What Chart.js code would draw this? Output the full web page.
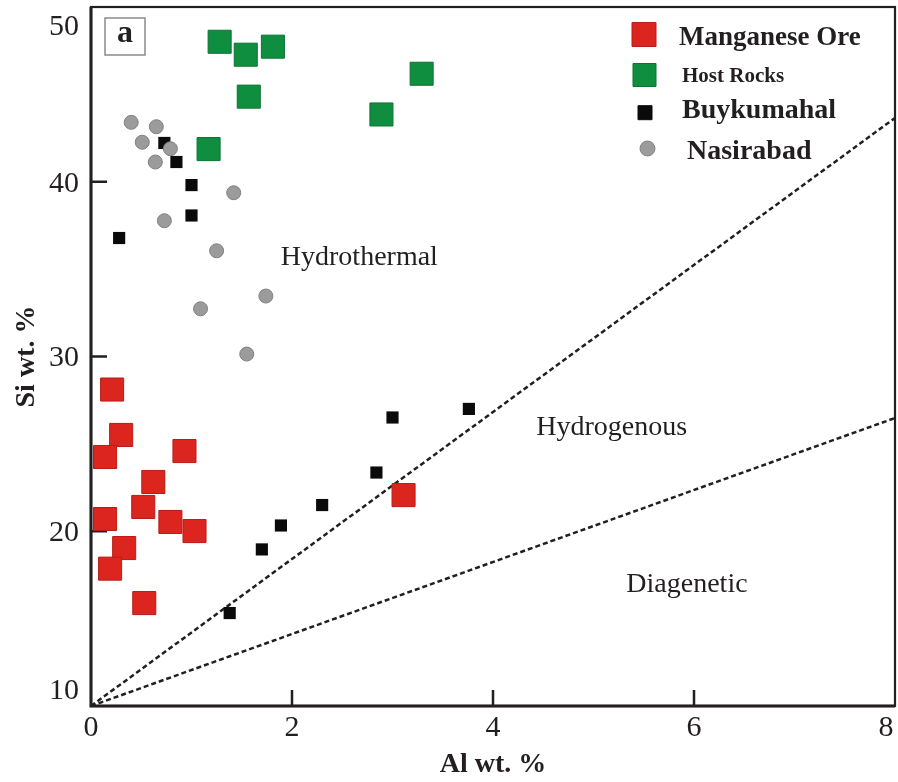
<!DOCTYPE html>
<html lang="en">
<head>
  <meta charset="UTF-8" />
  <title>Si vs Al discrimination diagram</title>
  <script src="https://cdn.jsdelivr.net/npm/chart.js"></script>
  <style>
    html, body { margin: 0; padding: 0; background: #fff; }
    #wrap { width: 898px; height: 782px; }
  </style>
</head>
<body>
  <div id="wrap">
    <canvas id="discrimChart" width="898" height="782"></canvas>
  </div>

  <script>
    // Al (x) and Si (y) in wt. %
    const manganeseAl = [0.21, 0.30, 0.14, 0.93, 0.62, 0.52, 0.14, 0.79, 1.03, 0.33, 0.19, 0.53, 3.11];
    const manganeseSi = [28.11, 25.51, 24.25, 24.59, 22.82, 21.39, 20.7, 20.53, 20.01, 19.04, 17.86, 15.89, 22.07];

    const hostAl = [1.28, 1.54, 1.81, 1.57, 1.17, 2.89, 3.29];
    const hostSi = [48.01, 47.27, 47.73, 44.87, 41.87, 43.85, 46.18];

    const buykumahalAl = [0.73, 0.85, 1.00, 1.00, 0.28, 1.38, 1.70, 1.89, 2.30, 2.84, 3.00, 3.76];
    const buykumahalSi = [42.22, 41.13, 39.81, 38.07, 36.78, 15.32, 18.96, 20.33, 21.5, 23.36, 26.51, 27.0];

    const nasirabadAl = [0.40, 0.65, 0.51, 0.79, 0.64, 1.42, 0.73, 1.25, 1.74, 1.09, 1.55];
    const nasirabadSi = [43.4, 43.15, 42.26, 41.89, 41.13, 39.37, 37.77, 36.05, 33.46, 32.73, 30.14];

    // field boundaries, both starting at the origin
    const upperBoundAl = [0, 8];
    const upperBoundSi = [10, 43.65];
    const lowerBoundAl = [0, 8];
    const lowerBoundSi = [10, 26.48];

    const xTicks = [0, 2, 4, 6, 8];
    const yTicks = [10, 20, 30, 40, 50];

    const fieldNames = ['Hydrothermal', 'Hydrogenous', 'Diagenetic'];
    const fieldAl = [2.67, 5.18, 5.93];
    const fieldSi = [35.24, 25.51, 16.52];

    const ink = '#231f20';
    const serif = '"Liberation Serif", "DejaVu Serif", serif';

    const toPoints = (xs, ys) => xs.map((v, i) => ({ x: v, y: ys[i] }));

    const decor = {
      id: 'decor',
      beforeDatasetsDraw(chart) {
        const { ctx, chartArea: a, scales: { x, y } } = chart;
        ctx.save();

        // frame, with the two axes a little heavier
        ctx.strokeStyle = ink;
        ctx.lineWidth = 2.2;
        ctx.strokeRect(a.left, a.top, a.right - a.left, a.bottom - a.top);
        ctx.lineWidth = 3;
        ctx.beginPath();
        ctx.moveTo(a.left, a.top);
        ctx.lineTo(a.left, a.bottom);
        ctx.lineTo(a.right, a.bottom);
        ctx.stroke();

        // short inward tick marks
        ctx.lineWidth = 2.5;
        ctx.beginPath();
        xTicks.slice(1, -1).forEach(v => {
          const px = x.getPixelForValue(v);
          ctx.moveTo(px, a.bottom);
          ctx.lineTo(px, a.bottom - 16);
        });
        yTicks.slice(1, -1).forEach(v => {
          const py = y.getPixelForValue(v);
          ctx.moveTo(a.left, py);
          ctx.lineTo(a.left + 16, py);
        });
        ctx.stroke();

        // tick labels, pulled inside the frame at the ends
        ctx.fillStyle = ink;
        ctx.font = '30px ' + serif;
        ctx.textAlign = 'right';
        ctx.textBaseline = 'middle';
        yTicks.forEach(v => {
          const py = Math.min(Math.max(y.getPixelForValue(v), a.top + 18), a.bottom - 17);
          ctx.fillText(String(v), a.left - 12, py + 2);
        });
        ctx.textAlign = 'center';
        xTicks.forEach(v => {
          const px = Math.min(x.getPixelForValue(v), a.right - 9);
          ctx.fillText(String(v), px, a.bottom + 22);
        });

        // field names
        ctx.font = '28px ' + serif;
        ctx.textBaseline = 'alphabetic';
        fieldNames.forEach((name, i) => {
          ctx.fillText(name, x.getPixelForValue(fieldAl[i]), y.getPixelForValue(fieldSi[i]));
        });

        ctx.restore();
      },
      afterDatasetsDraw(chart) {
        const { ctx, chartArea: a } = chart;
        const ds = chart.data.datasets;
        ctx.save();

        // panel tag
        ctx.fillStyle = '#fff';
        ctx.fillRect(a.left + 14, a.top + 11, 40, 37);
        ctx.strokeStyle = '#8a8a8a';
        ctx.lineWidth = 1.5;
        ctx.strokeRect(a.left + 14, a.top + 11, 40, 37);
        ctx.fillStyle = ink;
        ctx.font = 'bold 32px ' + serif;
        ctx.textAlign = 'center';
        ctx.textBaseline = 'middle';
        ctx.fillText('a', a.left + 34, a.top + 27);

        // legend
        const rows = [
          { d: 0, size: 24, mx: 644, my: 34.5, tx: 679, ty: 45, font: 27 },
          { d: 1, size: 23, mx: 644.5, my: 75, tx: 682, ty: 82, font: 21 },
          { d: 2, size: 14, mx: 645, my: 112.7, tx: 682, ty: 118, font: 28 },
          { d: 3, size: 15, mx: 647.5, my: 148.5, tx: 687, ty: 159, font: 28 }
        ];
        ctx.textAlign = 'left';
        ctx.textBaseline = 'alphabetic';
        rows.forEach(r => {
          const set = ds[r.d];
          ctx.fillStyle = set.backgroundColor;
          ctx.strokeStyle = set.borderColor;
          ctx.lineWidth = 1;
          const h = r.size / 2;
          ctx.beginPath();
          if (set.pointStyle === 'circle') {
            ctx.arc(r.mx, r.my, h, 0, Math.PI * 2);
          } else {
            ctx.rect(r.mx - h, r.my - h, r.size, r.size);
          }
          ctx.fill();
          ctx.stroke();
          ctx.fillStyle = ink;
          ctx.font = 'bold ' + r.font + 'px ' + serif;
          ctx.fillText(set.label, r.tx, r.ty);
        });

        ctx.restore();
      }
    };

    new Chart(document.getElementById('discrimChart'), {
      type: 'scatter',
      data: {
        datasets: [
          {
            label: 'Manganese Ore',
            data: toPoints(manganeseAl, manganeseSi),
            pointStyle: 'rect',
            pointRadius: 16.3,
            backgroundColor: '#dd2520',
            borderColor: '#b81d17',
            borderWidth: 1,
            order: 4
          },
          {
            label: 'Host Rocks',
            data: toPoints(hostAl, hostSi),
            pointStyle: 'rect',
            pointRadius: 16.3,
            backgroundColor: '#0f8e3f',
            borderColor: '#0b7533',
            borderWidth: 1,
            order: 3
          },
          {
            label: 'Buykumahal',
            data: toPoints(buykumahalAl, buykumahalSi),
            pointStyle: 'rect',
            pointRadius: 8.6,
            backgroundColor: '#0a0a0a',
            borderColor: '#0a0a0a',
            borderWidth: 0,
            order: 2
          },
          {
            label: 'Nasirabad',
            data: toPoints(nasirabadAl, nasirabadSi),
            pointStyle: 'circle',
            pointRadius: 7,
            backgroundColor: '#9b9b9b',
            borderColor: '#808080',
            borderWidth: 1,
            order: 1
          },
          {
            label: 'upper boundary',
            data: toPoints(upperBoundAl, upperBoundSi),
            showLine: true,
            pointRadius: 0,
            borderColor: ink,
            borderWidth: 2.5,
            borderDash: [5, 3],
            order: 10
          },
          {
            label: 'lower boundary',
            data: toPoints(lowerBoundAl, lowerBoundSi),
            showLine: true,
            pointRadius: 0,
            borderColor: ink,
            borderWidth: 2.5,
            borderDash: [5, 3],
            order: 10
          }
        ]
      },
      options: {
        responsive: false,
        animation: false,
        layout: { autoPadding: false, padding: { top: 7, right: 3, left: 0, bottom: 0 } },
        plugins: {
          legend: { display: false },
          tooltip: { enabled: false }
        },
        scales: {
          x: {
            type: 'linear',
            min: 0,
            max: 8,
            grid: { display: false, drawTicks: false },
            border: { display: false },
            ticks: { display: false },
            afterBuildTicks: s => { s.ticks = xTicks.map(v => ({ value: v })); },
            afterFit: s => { s.height = 76; s.paddingLeft = 0; s.paddingRight = 0; },
            title: {
              display: true,
              text: 'Al wt. %',
              color: ink,
              font: { family: serif, size: 28, weight: 'bold' },
              padding: { top: 0, bottom: 0 }
            }
          },
          y: {
            type: 'linear',
            min: 10,
            max: 50,
            grid: { display: false, drawTicks: false },
            border: { display: false },
            ticks: { display: false },
            afterBuildTicks: s => { s.ticks = yTicks.map(v => ({ value: v })); },
            afterFit: s => { s.width = 91; s.paddingTop = 0; s.paddingBottom = 0; },
            title: {
              display: true,
              text: 'Si wt. %',
              color: ink,
              font: { family: serif, size: 28, weight: 'bold' },
              padding: { top: 10, bottom: 0 }
            }
          }
        }
      },
      plugins: [decor]
    });
  </script>
</body>
</html>
